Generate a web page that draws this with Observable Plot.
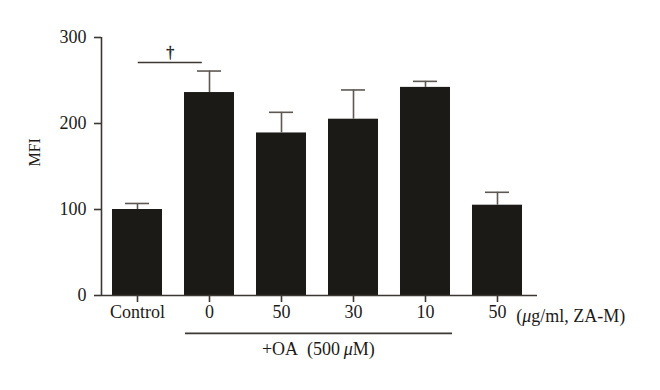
<!DOCTYPE html>
<html>
<head>
<meta charset="utf-8">
<script src="https://cdn.jsdelivr.net/npm/d3@7"></script>
<script src="https://cdn.jsdelivr.net/npm/@observablehq/plot@0.6"></script>
<style>
  html, body { margin: 0; padding: 0; background: #fff; }
  #chart { width: 660px; height: 390px; }
</style>
</head>
<body>
<div id="chart"></div>
<script>
const categories = ["Control", "0", "50", "30", "10", "50"];
const means = [100, 236, 189, 205, 242, 105];
const errors = [7, 25, 24, 34, 7, 15];
const yTicks = [0, 100, 200, 300];
const yLabel = "MFI";
const unitLabel = "(μg/ml, ZA-M)";
const groupLabel = "+OA\u2002(500\u2009μM)";
const groupSpan = [0.667, 4.375];     // bars under the +OA line (index units)
const sigSpan = [0.01, 0.9];          // significance bracket (index units)
const sigLevel = 271;                 // bracket height (MFI units)
const sigMark = "†";

const data = categories.map((c, i) => ({i, label: c, mean: means[i], err: errors[i]}));
const idx = data.map(d => d.i);
const half = 25 / 72;
const cap = 12 / 72;

const ink = "#1c1a17";
const axisColor = "#3b3733";
const errColor = "#5d5852";
const font = "'Liberation Serif', 'DejaVu Serif', serif";

const chart = Plot.plot({
  width: 660,
  height: 390,
  marginLeft: 101,
  marginRight: 123,
  marginTop: 37,
  marginBottom: 95,
  style: {fontFamily: font, fontSize: "18px", color: ink, background: "#fff"},
  x: {type: "linear", domain: [-0.5, 5.5556], axis: null},
  y: {domain: [0, 300], axis: null},
  marks: [
    Plot.rectY(data, {x1: d => d.i - half, x2: d => d.i + half, y1: 0, y2: "mean", fill: ink}),
    Plot.ruleX(data, {x: "i", y1: "mean", y2: d => d.mean + d.err, stroke: errColor, strokeWidth: 1.6}),
    Plot.ruleY(data, {y: d => d.mean + d.err, x1: d => d.i - cap, x2: d => d.i + cap, stroke: errColor, strokeWidth: 1.6}),
    Plot.ruleX([-0.5], {y1: 0, y2: 300, stroke: axisColor, strokeWidth: 1.6}),
    Plot.ruleY([0], {stroke: axisColor, strokeWidth: 1.6}),
    Plot.axisY({ticks: yTicks, tickSize: 7, tickPadding: 8, label: null, stroke: axisColor, strokeWidth: 1.6, fill: ink, fontSize: 18}),
    Plot.axisX({ticks: idx, tickFormat: i => categories[i], tickSize: 7, tickPadding: 3, label: null, stroke: axisColor, strokeWidth: 1.6, fill: ink, fontSize: 18}),
    Plot.text([yLabel], {frameAnchor: "left", dx: -67, rotate: -90, fontSize: 16, fill: ink}),
    Plot.text([unitLabel], {x: 5.26, y: 0, dy: 21, textAnchor: "start", fontSize: 18, fill: ink}),
    Plot.ruleY([-44], {x1: groupSpan[0], x2: groupSpan[1], stroke: axisColor, strokeWidth: 1.6}),
    Plot.text([groupLabel], {x: (groupSpan[0] + groupSpan[1]) / 2 - 0.01, y: -63, fontSize: 18, fill: ink}),
    Plot.ruleY([sigLevel], {x1: sigSpan[0], x2: sigSpan[1], stroke: axisColor, strokeWidth: 1.6}),
    Plot.text([sigMark], {x: (sigSpan[0] + sigSpan[1]) / 2, y: sigLevel, dy: -10, fontSize: 16, fill: ink, stroke: ink, strokeWidth: 0.4})
  ]
});

// italicize μ
d3.select(chart).selectAll("text").each(function() {
  const t = d3.select(this);
  const tspans = t.selectAll("tspan");
  const target = tspans.empty() ? t : tspans;
  target.each(function() {
    const el = d3.select(this);
    const s = el.text();
    if (s.includes("μ") && el.selectAll("tspan").empty()) {
      const parts = s.split("μ");
      el.text(null);
      parts.forEach((p, k) => {
        if (k > 0) el.append("tspan").attr("font-style", "italic").text("μ");
        if (p) el.append("tspan").text(p);
      });
    }
  });
});

document.getElementById("chart").appendChild(chart);
</script>
</body>
</html>
